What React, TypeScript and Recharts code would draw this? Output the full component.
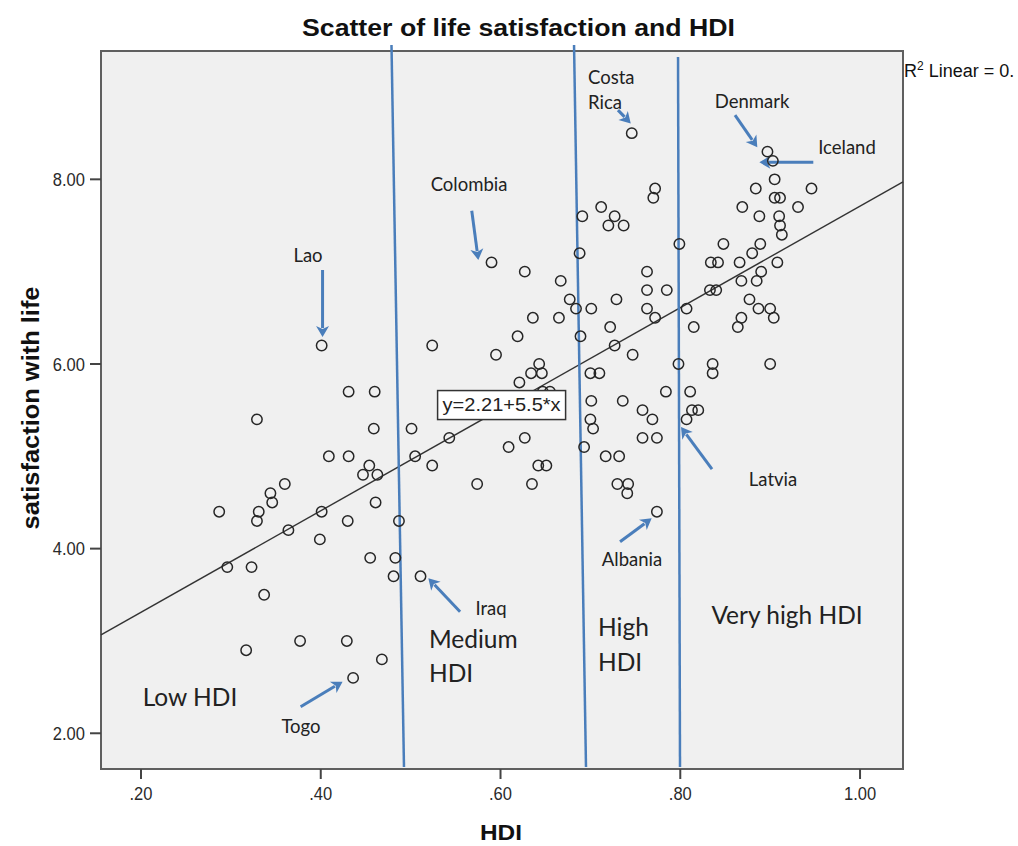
import { ScatterChart, Scatter, XAxis, YAxis, ReferenceArea, ReferenceLine, ReferenceDot } from 'recharts';

// HDI (x) and life satisfaction (y) per country
const hdi = [
  0.287, 0.296, 0.317, 0.323, 0.329, 0.331, 0.329, 0.337, 0.344, 0.346,
  0.360, 0.364, 0.377, 0.399, 0.401, 0.401, 0.409, 0.429, 0.430, 0.431,
  0.431, 0.436, 0.447, 0.454, 0.455, 0.459, 0.460, 0.461, 0.463, 0.468,
  0.481, 0.483, 0.487, 0.501, 0.505, 0.511, 0.524, 0.524, 0.543, 0.574,
  0.590, 0.595, 0.609, 0.619, 0.621, 0.627, 0.627, 0.634, 0.635, 0.636,
  0.642, 0.643, 0.646, 0.647, 0.651, 0.655, 0.665, 0.667, 0.677, 0.684,
  0.689, 0.688, 0.691, 0.693, 0.700, 0.701, 0.701, 0.700, 0.703, 0.710,
  0.712, 0.717, 0.720, 0.722, 0.727, 0.727, 0.729, 0.730, 0.732, 0.736,
  0.737, 0.741, 0.742, 0.746, 0.747, 0.758, 0.758, 0.763, 0.763, 0.763,
  0.769, 0.770, 0.772, 0.772, 0.774, 0.774, 0.784, 0.785, 0.798, 0.799,
  0.807, 0.807, 0.811, 0.813, 0.815, 0.820, 0.833, 0.834, 0.836, 0.836,
  0.840, 0.842, 0.848, 0.864, 0.866, 0.868, 0.868, 0.869, 0.877, 0.880,
  0.884, 0.885, 0.887, 0.888, 0.889, 0.890, 0.897, 0.900, 0.900, 0.903,
  0.904, 0.905, 0.905, 0.908, 0.910, 0.911, 0.911, 0.913, 0.931, 0.946,
];

const lifeSatisfaction = [
  4.4, 3.8, 2.9, 3.8, 5.4, 4.4, 4.3, 3.5, 4.6, 4.5,
  4.7, 4.2, 3.0, 4.1, 4.4, 6.2, 5.0, 3.0, 4.3, 5.7,
  5.0, 2.6, 4.8, 4.9, 3.9, 5.3, 5.7, 4.5, 4.8, 2.8,
  3.7, 3.9, 4.3, 5.3, 5.0, 3.7, 6.2, 4.9, 5.2, 4.7,
  7.1, 6.1, 5.1, 6.3, 5.8, 5.2, 7.0, 5.9, 4.7, 6.5,
  4.9, 6.0, 5.9, 5.7, 4.9, 5.7, 6.5, 6.9, 6.7, 6.6,
  6.3, 7.2, 7.6, 5.1, 5.9, 6.6, 5.6, 5.4, 5.3, 5.9,
  7.7, 5.0, 7.5, 6.4, 7.6, 6.2, 6.7, 4.7, 5.0, 5.6,
  7.5, 4.6, 4.7, 8.5, 6.1, 5.5, 5.2, 7.0, 6.8, 6.6,
  5.4, 7.8, 7.9, 6.5, 5.2, 4.4, 5.7, 6.8, 6.0, 7.3,
  5.4, 6.6, 5.7, 5.5, 6.4, 5.5, 6.8, 7.1, 6.0, 5.9,
  6.8, 7.1, 7.3, 6.4, 7.1, 6.5, 6.9, 7.7, 6.7, 7.2,
  7.9, 6.9, 6.6, 7.6, 7.3, 7.0, 8.3, 6.0, 6.6, 8.2,
  6.5, 8.0, 7.8, 7.1, 7.6, 7.8, 7.5, 7.4, 7.7, 7.9,
];

const xTicks = [0.2, 0.4, 0.6, 0.8, 1.0];
const yTicks = [2, 4, 6, 8];
const xDomain: [number, number] = [0.1555, 1.0478];
const yDomain: [number, number] = [1.613, 9.39];

// fit line y = 2.21 + 5.5 * x
const intercept = 2.21;
const slope = 5.5;

// hand drawn HDI band dividers (slightly slanted)
const bandLines = [
  { x1: 0.4787, y1: 9.455, x2: 0.4926, y2: 1.635 },
  { x1: 0.6818, y1: 9.455, x2: 0.6951, y2: 1.635 },
  { x1: 0.7975, y1: 9.325, x2: 0.7997, y2: 1.635 },
];

const countryLabels = [
  { text: 'Lao', x: 0.3858, y: 7.18, anchor: 'middle' },
  { text: 'Colombia', x: 0.565, y: 7.94, anchor: 'middle' },
  { text: 'Costa', x: 0.6974, y: 9.107, anchor: 'start' },
  { text: 'Rica', x: 0.6974, y: 8.836, anchor: 'start' },
  { text: 'Denmark', x: 0.8798, y: 8.847, anchor: 'middle' },
  { text: 'Iceland', x: 0.9855, y: 8.34, anchor: 'middle' },
  { text: 'Latvia', x: 0.9032, y: 4.75, anchor: 'middle' },
  { text: 'Albania', x: 0.7463, y: 3.877, anchor: 'middle' },
  { text: 'Iraq', x: 0.5894, y: 3.347, anchor: 'middle' },
  { text: 'Togo', x: 0.378, y: 2.07, anchor: 'middle' },
];

const regionLabels = [
  { text: 'Low HDI', x: 0.2545, y: 2.385, anchor: 'middle' },
  { text: 'Medium', x: 0.5204, y: 3.02, anchor: 'start' },
  { text: 'HDI', x: 0.5204, y: 2.65, anchor: 'start' },
  { text: 'High', x: 0.7085, y: 3.15, anchor: 'start' },
  { text: 'HDI', x: 0.7085, y: 2.77, anchor: 'start' },
  { text: 'Very high HDI', x: 0.9188, y: 3.28, anchor: 'middle' },
];

const arrows = [
  { x1: 0.402, y1: 7.018, x2: 0.402, y2: 6.292 },
  { x1: 0.568, y1: 7.66, x2: 0.5753, y2: 7.126 },
  { x1: 0.7307, y1: 8.75, x2: 0.7449, y2: 8.606 },
  { x1: 0.8609, y1: 8.696, x2: 0.8857, y2: 8.347 },
  { x1: 0.948, y1: 8.184, x2: 0.888, y2: 8.184 },
  { x1: 0.8353, y1: 4.862, x2: 0.8008, y2: 5.317 },
  { x1: 0.733, y1: 4.075, x2: 0.7682, y2: 4.328 },
  { x1: 0.555, y1: 3.317, x2: 0.5197, y2: 3.679 },
  { x1: 0.3776, y1: 2.288, x2: 0.4243, y2: 2.559 },
];

const equationAt = { x: 0.6012, y: 5.555 };

const points = hdi.map((x, i) => ({ hdi: x, satisfaction: lifeSatisfaction[i] }));

const BLUE = '#4a7ebb';
const AXIS_FONT = '"Liberation Sans", Arial, sans-serif';
const NOTE_FONT = 'Lato, "Open Sans", sans-serif';
const fmtX = (v: number) => v.toFixed(2).replace(/^0/, '');

const XTick = ({ x, y, payload }: any) => (
  <g transform={`translate(${x},${y})`}>
    <text transform="scale(0.87,1)" textAnchor="middle" dy="0.71em" fontSize={19} fill="#2a2a2a" fontFamily={AXIS_FONT}>
      {fmtX(payload.value)}
    </text>
  </g>
);

const YTick = ({ x, y, payload }: any) => (
  <g transform={`translate(${x},${y})`}>
    <text transform="scale(0.87,1)" textAnchor="end" dy="0.355em" fontSize={19} fill="#2a2a2a" fontFamily={AXIS_FONT}>
      {payload.value.toFixed(2)}
    </text>
  </g>
);

const Arrow = (p: any) => {
  const { x1, y1, x2, y2 } = p;
  const dx = x2 - x1;
  const dy = y2 - y1;
  const len = Math.sqrt(dx * dx + dy * dy) || 1;
  const ux = dx / len;
  const uy = dy / len;
  const head = 11;
  const half = 6.5;
  const bx = x2 - ux * head;
  const by = y2 - uy * head;
  return (
    <g>
      <line x1={x1} y1={y1} x2={bx + ux * 2} y2={by + uy * 2} stroke={BLUE} strokeWidth={3} />
      <polygon
        points={`${x2},${y2} ${bx - uy * half},${by + ux * half} ${bx + ux * 3},${by + uy * 3} ${bx + uy * half},${by - ux * half}`}
        fill={BLUE}
      />
    </g>
  );
};

export default function App() {
  const xa = xDomain[0];
  const xb = xDomain[1];
  return (
    <div style={{ position: 'absolute', left: 0, top: 0, width: 1018, height: 846, background: '#fff' }}>
      <ScatterChart width={1018} height={846} margin={{ top: 51, right: 115, bottom: 47, left: 30 }}>
        <XAxis
          type="number"
          dataKey="hdi"
          domain={xDomain}
          allowDataOverflow
          ticks={xTicks}
          axisLine={false}
          tickLine={{ stroke: '#444', strokeWidth: 2 }}
          tickSize={10}
          tickMargin={7}
          height={30}
          tick={XTick}
        />
        <YAxis
          type="number"
          dataKey="satisfaction"
          domain={yDomain}
          allowDataOverflow
          ticks={yTicks}
          axisLine={false}
          tickLine={{ stroke: '#444', strokeWidth: 2 }}
          tickSize={11}
          tickMargin={5}
          width={71}
          tick={YTick}
        />
        <ReferenceArea x1={xa} x2={xb} y1={yDomain[0]} y2={yDomain[1]} fill="#f0f0f0" fillOpacity={1} stroke="#5f5f5f" strokeWidth={2} />
        <ReferenceLine
          segment={[{ x: xa, y: intercept + slope * xa }, { x: xb, y: intercept + slope * xb }]}
          stroke="#333"
          strokeWidth={1.4}
        />
        <Scatter
          data={points}
          isAnimationActive={false}
          shape={(p: any) => <circle cx={p.cx} cy={p.cy} r={5.2} fill="none" stroke="#262626" strokeWidth={1.5} />}
        />
        {bandLines.map((b, i) => (
          <ReferenceLine
            key={'band' + i}
            segment={[{ x: b.x1, y: b.y1 }, { x: b.x2, y: b.y2 }]}
            stroke={BLUE}
            strokeWidth={2.5}
            ifOverflow="visible"
          />
        ))}
        {arrows.map((a, i) => (
          <ReferenceLine
            key={'arrow' + i}
            segment={[{ x: a.x1, y: a.y1 }, { x: a.x2, y: a.y2 }]}
            shape={Arrow}
            ifOverflow="visible"
          />
        ))}
        {countryLabels.map((l, i) => (
          <ReferenceDot
            key={'c' + i}
            x={l.x}
            y={l.y}
            r={0}
            ifOverflow="visible"
            shape={(p: any) => (
              <text x={p.cx} y={p.cy} dy="0.35em" textAnchor={l.anchor} fontSize={18.5} fill="#222" fontFamily={NOTE_FONT}>
                {l.text}
              </text>
            )}
          />
        ))}
        {regionLabels.map((l, i) => (
          <ReferenceDot
            key={'r' + i}
            x={l.x}
            y={l.y}
            r={0}
            ifOverflow="visible"
            shape={(p: any) => (
              <text x={p.cx} y={p.cy} dy="0.35em" textAnchor={l.anchor} fontSize={24.5} fill="#222" fontFamily={NOTE_FONT}>
                {l.text}
              </text>
            )}
          />
        ))}
        <ReferenceDot
          x={equationAt.x}
          y={equationAt.y}
          r={0}
          shape={(p: any) => (
            <g>
              <rect x={p.cx - 64} y={p.cy - 14.5} width={128} height={29} fill="#fff" stroke="#333" strokeWidth={1.5} />
              <text x={p.cx} y={p.cy} dy="0.35em" textAnchor="middle" fontSize={18} fill="#222" fontFamily={AXIS_FONT} textLength={118} lengthAdjust="spacingAndGlyphs">
                y=2.21+5.5*x
              </text>
            </g>
          )}
        />
      </ScatterChart>
      <svg width={1018} height={846} style={{ position: 'absolute', left: 0, top: 0, pointerEvents: 'none' }}>
        <text x={518.5} y={36} textAnchor="middle" fontSize={23} fontWeight="bold" fill="#111" fontFamily={AXIS_FONT} textLength={433} lengthAdjust="spacingAndGlyphs">
          Scatter of life satisfaction and HDI
        </text>
        <text x={904} y={77} fontSize={18} fill="#111" fontFamily={AXIS_FONT}>
          R<tspan dy={-7} fontSize={12}>2</tspan>
          <tspan dy={7}> Linear = 0.</tspan>
        </text>
        <text transform="translate(39,408) rotate(-90)" textAnchor="middle" fontSize={23} fontWeight="bold" fill="#111" fontFamily={AXIS_FONT} textLength={243} lengthAdjust="spacingAndGlyphs">
          satisfaction with life
        </text>
        <text x={501} y={840} textAnchor="middle" fontSize={22} fontWeight="bold" fill="#111" fontFamily={AXIS_FONT} textLength={42} lengthAdjust="spacingAndGlyphs">
          HDI
        </text>
      </svg>
    </div>
  );
}
